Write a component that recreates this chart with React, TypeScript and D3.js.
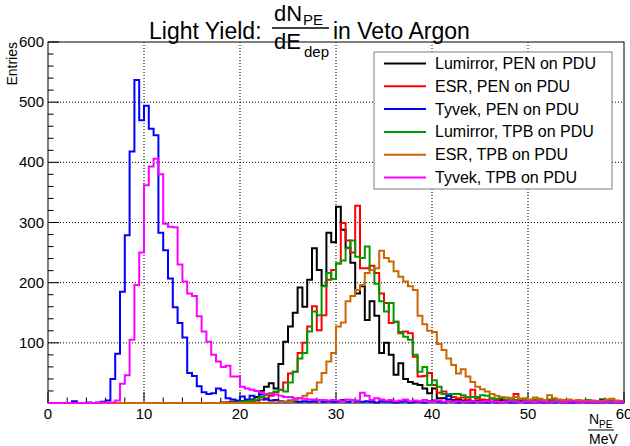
import * as d3 from "d3";

// bins of 0.5 N_PE/MeV from 0 to 60 (120 bins)
const binWidth = 0.5;

const lumirrorPen = [
  0, 0, 0, 0, 0, 0, 0, 0, 0, 0,
  0, 0, 0, 0, 0, 0, 0, 0, 0, 0,
  0, 0, 0, 0, 0, 0, 0, 0, 0, 0,
  0, 0, 0, 0, 0, 0, 1, 1, 2, 2,
  3, 4, 6, 10, 20, 27, 33, 24, 65, 102,
  127, 150, 192, 160, 205, 257, 221, 195, 283, 267,
  326, 288, 258, 233, 182, 194, 138, 169, 145, 83,
  100, 80, 47, 66, 40, 35, 32, 30, 24, 16,
  24, 8, 8, 6, 5, 5, 4, 5, 3, 4,
  3, 4, 2, 3, 5, 2, 3, 2, 4, 3,
  2, 5, 3, 2, 3, 2, 4, 2, 3, 2,
  3, 2, 2, 3, 2, 6, 2, 3, 2, 2,
];

const esrPen = [
  0, 0, 0, 0, 0, 0, 0, 0, 0, 0,
  0, 0, 0, 0, 0, 0, 0, 0, 0, 0,
  0, 0, 0, 0, 0, 0, 0, 0, 0, 0,
  0, 0, 0, 0, 0, 0, 0, 1, 1, 1,
  1, 2, 3, 4, 6, 8, 12, 18, 22, 34,
  49, 52, 83, 100, 127, 161, 121, 146, 205, 221,
  232, 299, 270, 250, 328, 224, 224, 228, 216, 182,
  166, 133, 135, 116, 119, 116, 77, 44, 45, 50,
  30, 17, 19, 12, 10, 8, 9, 6, 22, 8,
  6, 5, 7, 6, 8, 5, 7, 15, 5, 6,
  4, 5, 6, 4, 3, 5, 4, 3, 4, 3,
  2, 3, 5, 3, 2, 3, 2, 4, 2, 3,
];

const tyvekPen = [
  0, 0, 0, 0, 0, 3, 0, 0, 1, 0,
  1, 2, 4, 40, 82, 185, 279, 418, 537, 470,
  494, 456, 445, 283, 254, 207, 159, 133, 109, 50,
  45, 28, 18, 15, 16, 24, 21, 8, 6, 4,
  11, 6, 12, 5, 14, 6, 4, 5, 3, 2,
  4, 3, 2, 3, 2, 3, 4, 2, 3, 2,
  3, 5, 2, 4, 3, 2, 3, 2, 1, 3,
  2, 2, 1, 2, 3, 1, 2, 2, 1, 3,
  4, 2, 1, 12, 3, 1, 2, 1, 1, 2,
  1, 1, 2, 1, 1, 3, 1, 1, 2, 1,
  1, 1, 2, 1, 1, 1, 2, 1, 1, 1,
  1, 2, 1, 1, 1, 1, 2, 1, 1, 1,
];

const lumirrorTpb = [
  0, 0, 0, 0, 0, 0, 0, 0, 0, 0,
  0, 0, 0, 0, 0, 0, 0, 0, 0, 0,
  0, 0, 0, 0, 0, 0, 0, 0, 0, 0,
  0, 0, 0, 0, 0, 0, 0, 0, 1, 1,
  2, 3, 4, 6, 10, 13, 16, 19, 22, 19,
  34, 52, 74, 83, 119, 152, 146, 194, 216, 206,
  232, 237, 257, 270, 243, 241, 260, 221, 198, 169,
  152, 166, 135, 118, 110, 105, 80, 52, 60, 30,
  38, 27, 15, 15, 15, 15, 13, 10, 10, 10,
  13, 12, 8, 7, 9, 6, 8, 5, 7, 6,
  5, 6, 4, 5, 6, 4, 3, 5, 4, 3,
  4, 3, 5, 3, 2, 4, 3, 2, 3, 2,
];

const esrTpb = [
  0, 0, 0, 0, 0, 0, 0, 0, 0, 0,
  0, 0, 0, 0, 0, 0, 0, 0, 0, 0,
  0, 0, 0, 0, 0, 0, 0, 0, 0, 0,
  0, 0, 0, 0, 0, 0, 0, 0, 0, 0,
  0, 0, 0, 0, 0, 0, 1, 1, 2, 2,
  3, 5, 8, 12, 16, 22, 34, 50, 69, 83,
  127, 134, 169, 178, 188, 196, 216, 221, 224, 253,
  241, 235, 219, 210, 202, 194, 188, 145, 131, 120,
  118, 98, 88, 74, 63, 49, 56, 44, 35, 27,
  23, 19, 15, 12, 10, 9, 8, 10, 7, 8,
  6, 9, 7, 5, 13, 8, 6, 5, 6, 4,
  5, 4, 3, 4, 3, 3, 6, 7, 4, 3,
];

const tyvekTpb = [
  0, 0, 0, 0, 0, 0, 0, 0, 0, 0,
  0, 1, 1, 1, 4, 32, 46, 105, 196, 250,
  362, 393, 406, 380, 298, 293, 292, 230, 202, 182,
  178, 144, 119, 102, 80, 69, 60, 62, 44, 44,
  27, 24, 22, 20, 18, 15, 15, 14, 12, 10,
  10, 8, 8, 7, 6, 6, 5, 5, 4, 5,
  4, 3, 6, 5, 4, 17, 12, 5, 8, 6,
  4, 5, 3, 4, 6, 3, 4, 3, 5, 2,
  3, 4, 2, 3, 2, 3, 2, 2, 3, 2,
  2, 3, 2, 2, 1, 2, 3, 2, 1, 2,
  2, 1, 3, 2, 1, 2, 2, 1, 2, 3,
  1, 2, 2, 1, 2, 1, 2, 2, 1, 2,
];

const legendNames = [
  "Lumirror, PEN on PDU",
  "ESR, PEN on PDU",
  "Tyvek, PEN on PDU",
  "Lumirror, TPB on PDU",
  "ESR, TPB on PDU",
  "Tyvek, TPB on PDU",
];
const colors = ["#000000", "#ff0000", "#0000ff", "#009900", "#cc6600", "#ff00ff"];
const allSeries = [lumirrorPen, esrPen, tyvekPen, lumirrorTpb, esrTpb, tyvekTpb];

const xTicks = [0, 10, 20, 30, 40, 50, 60];
const yTicks = [0, 100, 200, 300, 400, 500, 600];

const W = 630;
const H = 446;
const frame = { left: 48, right: 624, top: 42, bottom: 403 };
const font = "'Liberation Sans', Arial, Helvetica, sans-serif";

export default function App() {
  const x = d3.scaleLinear().domain([0, 60]).range([frame.left, frame.right]);
  const y = d3.scaleLinear().domain([0, 600]).range([frame.bottom, frame.top]);

  const step = d3
    .line<[number, number]>()
    .curve(d3.curveStepAfter)
    .x((d) => x(d[0]))
    .y((d) => y(d[1]));

  const pathFor = (vals: number[]) => {
    const pts: [number, number][] = vals.map((v, i) => [i * binWidth, v]);
    pts.push([vals.length * binWidth, vals[vals.length - 1]]);
    return step(pts) || "";
  };

  const xMinor = d3.range(0, 60.001, 2);
  const yMinor = d3.range(0, 600.001, 20);

  const legend = { x: 374, y: 52, w: 238, h: 137 };
  const rowH = legend.h / 6;

  return (
    <div style={{ position: "fixed", left: 0, top: 0 }}>
      <svg width={W} height={H} style={{ display: "block", background: "#fff" }}>
        {/* grid */}
        {xTicks.slice(1, -1).map((t) => (
          <line key={"gx" + t} x1={x(t)} x2={x(t)} y1={frame.top} y2={frame.bottom}
            stroke="#000" strokeWidth={1} strokeDasharray="1 2" />
        ))}
        {yTicks.slice(1, -1).map((t) => (
          <line key={"gy" + t} x1={frame.left} x2={frame.right} y1={y(t)} y2={y(t)}
            stroke="#000" strokeWidth={1} strokeDasharray="1 2" />
        ))}
        <rect x={frame.left} y={frame.top} width={frame.right - frame.left}
          height={frame.bottom - frame.top} fill="none" stroke="#000" strokeWidth={1} />
        {/* ticks */}
        {xMinor.map((t) => (
          <line key={"tx" + t} x1={x(t)} x2={x(t)} y1={frame.bottom}
            y2={frame.bottom - (t % 10 === 0 ? 11 : 5.5)} stroke="#000" />
        ))}
        {yMinor.map((t) => (
          <line key={"ty" + t} x1={frame.left} y1={y(t)} y2={y(t)}
            x2={frame.left + (t % 100 === 0 ? 11 : 5.5)} stroke="#000" />
        ))}
        {/* tick labels */}
        {xTicks.map((t) => (
          <text key={"lx" + t} x={x(t)} y={419} textAnchor="middle" fontFamily={font} fontSize={15}>
            {t}
          </text>
        ))}
        {yTicks.slice(1).map((t) => (
          <text key={"ly" + t} x={44} y={y(t) + 5} textAnchor="end" fontFamily={font} fontSize={15}>
            {t}
          </text>
        ))}
        {/* histograms */}
        {allSeries.map((vals, i) => (
          <path key={"h" + i} d={pathFor(vals)} fill="none" stroke={colors[i]} strokeWidth={2} />
        ))}
        {/* axis titles */}
        <text transform={`translate(17,${frame.top}) rotate(-90)`} textAnchor="end"
          fontFamily={font} fontSize={14}>Entries</text>
        <g fontFamily={font} fontSize={14}>
          <text x={589} y={424}>N</text>
          <text x={599} y={428} fontSize={10}>PE</text>
          <line x1={588} x2={614} y1={430} y2={430} stroke="#000" strokeWidth={1} />
          <text x={589} y={444}>MeV</text>
        </g>
        {/* title */}
        <g fontFamily={font}>
          <text x={149} y={39} fontSize={23}>Light Yield:</text>
          <text x={274} y={21} fontSize={22}>dN</text>
          <text x={303} y={25} fontSize={15}>PE</text>
          <line x1={272} x2={329} y1={28} y2={28} stroke="#000" strokeWidth={1.5} />
          <text x={274} y={49} fontSize={22}>dE</text>
          <text x={304} y={57} fontSize={15}>dep</text>
          <text x={333} y={39} fontSize={23}>in Veto Argon</text>
        </g>
        {/* legend */}
        <rect x={legend.x} y={legend.y} width={legend.w} height={legend.h}
          fill="#fff" stroke="#808080" strokeWidth={1} />
        {legendNames.map((n, i) => {
          const cy = legend.y + rowH * (i + 0.5);
          return (
            <g key={"lg" + i}>
              <line x1={384} x2={426} y1={cy} y2={cy} stroke={colors[i]} strokeWidth={2} />
              <text x={435} y={cy + 5.5} fontFamily={font} fontSize={16}>{n}</text>
            </g>
          );
        })}
      </svg>
    </div>
  );
}
